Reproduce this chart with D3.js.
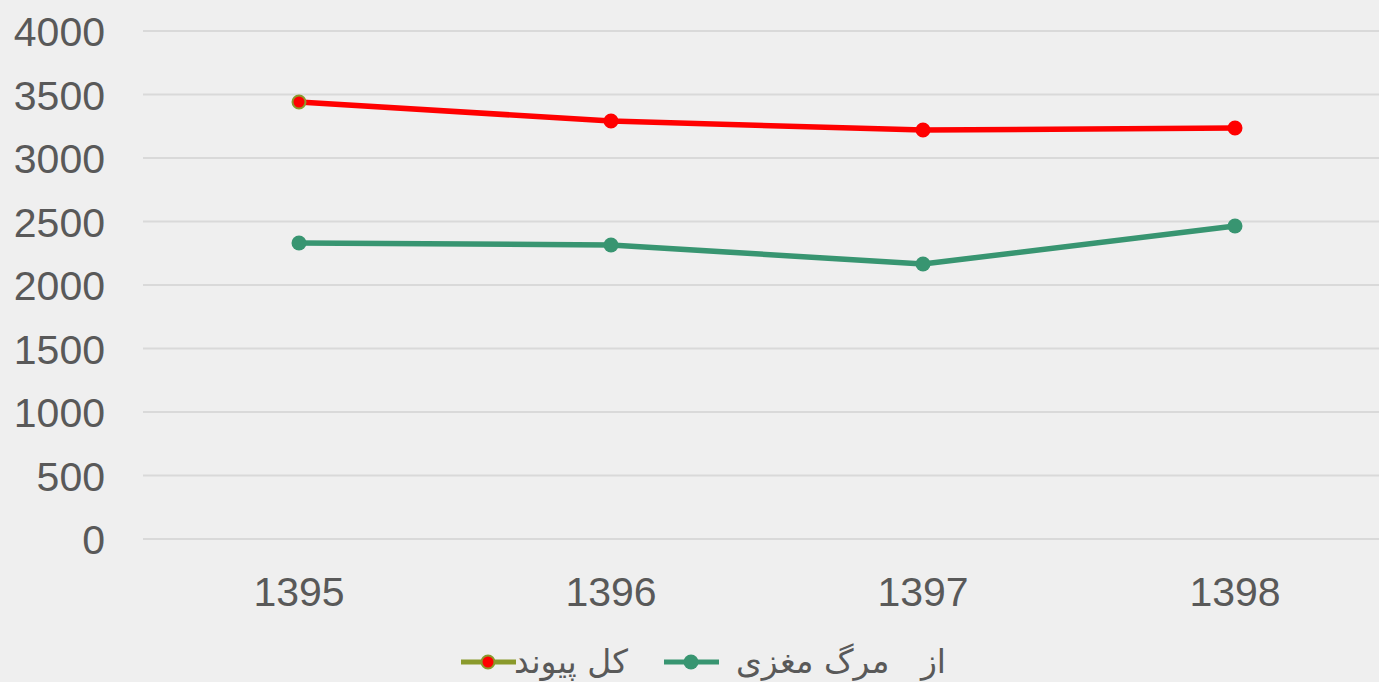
<!DOCTYPE html>
<html>
<head>
<meta charset="utf-8">
<script src="https://cdn.jsdelivr.net/npm/d3@7"></script>
<style>
  body { margin: 0; background: #efefef; overflow: hidden; }
  svg { display: block; }
</style>
</head>
<body>
<svg id="chart"></svg>
<script>
// data
const years = ["1395", "1396", "1397", "1398"]
const totalTransplant = [3441, 3291, 3220, 3236]
const brainDeath = [2331, 2315, 2165, 2465]
const yTicks = [0, 500, 1000, 1500, 2000, 2500, 3000, 3500, 4000]
const seriesNames = ["کل پیوند", "از   مرگ مغزی"]

const width = 1379
const height = 682

const svg = d3.select("#chart")
    .attr("width", width)
    .attr("height", height)

svg.append("rect")
    .attr("width", width)
    .attr("height", height)
    .attr("fill", "#efefef")

const x = d3.scaleBand()
    .domain(years)
    .range([143, 1391])

const y = d3.scaleLinear()
    .domain([0, 4000])
    .range([539, 31])

// gridlines
svg.selectAll(".grid")
    .data(yTicks)
    .enter().append("line")
    .attr("x1", 143)
    .attr("x2", width)
    .attr("y1", d => y(d))
    .attr("y2", d => y(d))
    .attr("stroke", "#d9d9d9")
    .attr("stroke-width", 2)

// y axis labels
const yAxis = d3.axisLeft(y).tickValues(yTicks).tickFormat(d3.format("d")).tickSize(0).tickPadding(0)
const gy = svg.append("g")
    .attr("transform", "translate(105,0)")
    .call(yAxis)
gy.select(".domain").remove()
gy.selectAll("text")
    .attr("font-family", "Liberation Sans, Arial, sans-serif")
    .attr("font-size", 41)
    .attr("fill", "#595959")
    .attr("dy", "0.36em")

// x axis labels
const xAxis = d3.axisBottom(x).tickSize(0).tickPadding(0)
const gx = svg.append("g")
    .attr("transform", "translate(0,606)")
    .call(xAxis)
gx.select(".domain").remove()
gx.selectAll("text")
    .attr("font-family", "Liberation Sans, Arial, sans-serif")
    .attr("font-size", 41)
    .attr("fill", "#595959")
    .attr("dy", 0)

const cx = d => x(d) + x.bandwidth() / 2

const line = d3.line()
    .x((d, i) => cx(years[i]))
    .y(d => y(d))

// brain death series
svg.append("path")
    .datum(brainDeath)
    .attr("d", line)
    .attr("fill", "none")
    .attr("stroke", "#389571")
    .attr("stroke-width", 5.5)
    .attr("stroke-linejoin", "round")

svg.selectAll(".dot-green")
    .data(brainDeath)
    .enter().append("circle")
    .attr("cx", (d, i) => cx(years[i]))
    .attr("cy", d => y(d))
    .attr("r", 7.5)
    .attr("fill", "#389571")

// total transplant series
svg.append("path")
    .datum(totalTransplant)
    .attr("d", line)
    .attr("fill", "none")
    .attr("stroke", "#ff0000")
    .attr("stroke-width", 5.5)
    .attr("stroke-linejoin", "round")

svg.selectAll(".dot-red")
    .data(totalTransplant)
    .enter().append("circle")
    .attr("cx", (d, i) => cx(years[i]))
    .attr("cy", d => y(d))
    .attr("r", 6.5)
    .attr("fill", "#ff0000")
    .attr("stroke", (d, i) => i == 0 ? "#8a9a2c" : "#ff0000")
    .attr("stroke-width", 2)

// legend
const legend = svg.append("g")

legend.append("line")
    .attr("x1", 461).attr("x2", 516)
    .attr("y1", 662).attr("y2", 662)
    .attr("stroke", "#8a9a2c").attr("stroke-width", 5)
legend.append("circle")
    .attr("cx", 488).attr("cy", 662).attr("r", 6.5)
    .attr("fill", "#ff0000").attr("stroke", "#8a9a2c").attr("stroke-width", 2)
legend.append("text")
    .attr("x", 628).attr("y", 673)
    .attr("text-anchor", "end")
    .attr("font-family", "DejaVu Sans, sans-serif")
    .attr("font-size", 33)
    .attr("fill", "#595959")
    .text(seriesNames[0])

legend.append("line")
    .attr("x1", 664).attr("x2", 719)
    .attr("y1", 662).attr("y2", 662)
    .attr("stroke", "#389571").attr("stroke-width", 5)
legend.append("circle")
    .attr("cx", 691).attr("cy", 662).attr("r", 7.5)
    .attr("fill", "#389571")
legend.append("text")
    .attr("x", 946).attr("y", 673)
    .attr("text-anchor", "end")
    .attr("font-family", "DejaVu Sans, sans-serif")
    .attr("font-size", 33)
    .attr("fill", "#595959")
    .style("white-space", "pre")
    .text(seriesNames[1])
</script>
</body>
</html>
